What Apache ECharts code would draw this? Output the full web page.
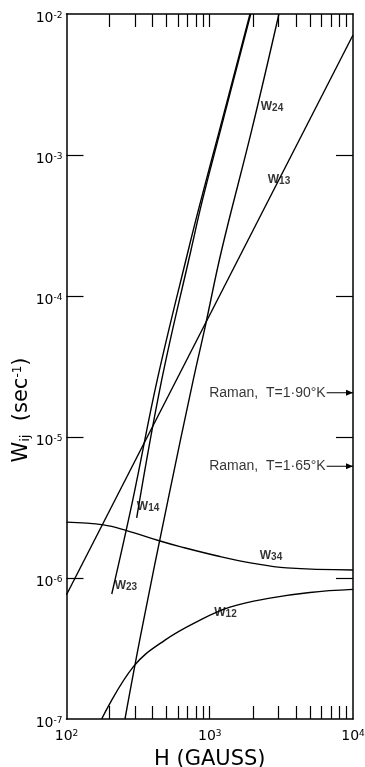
<!DOCTYPE html>
<html>
<head>
<meta charset="utf-8">
<script src="https://cdn.jsdelivr.net/npm/echarts@6/dist/echarts.min.js"></script>
<style>
  html, body { margin: 0; padding: 0; background: #fff; }
  #chart { width: 365px; height: 767px; }
</style>
</head>
<body>
<div id="chart"></div>
<script>
// Axis ranges: field H in gauss, transition rate W_ij in sec^-1
const fieldRange = [100, 10000];
const rateRange = [1e-7, 1e-2];

// Tick values
const fieldTicks = [200, 300, 400, 500, 600, 700, 800, 900, 1000,
                    2000, 3000, 4000, 5000, 6000, 7000, 8000, 9000];
const fieldLabelValues = [100, 1000, 10000];
const rateTicks = [1e-6, 1e-5, 1e-4, 1e-3];
const rateLabelValues = [1e-7, 1e-6, 1e-5, 1e-4, 1e-3, 1e-2];

// Relaxation rates [H (gauss), W (sec^-1)]
const W13 = [[100, 7.6e-7], [10000, 7.1e-3]];
const W24 = [[256, 1e-7], [335, 4.28e-7], [511, 3.57e-6], [767, 2.54e-5],
             [927, 6.0e-5], [1211, 2.12e-4], [1963, 1.5e-3], [3041, 1e-2]];
const W23 = [[207, 7.7e-7], [290, 3.57e-6], [430, 2.54e-5], [709, 2.12e-4],
             [869, 4.8e-4], [1170, 1.5e-3], [1910, 1e-2]];
const W14 = [[309, 2.67e-6], [462, 2.54e-5], [740, 2.12e-4], [890, 4.8e-4],
             [1189, 1.5e-3], [1932, 1e-2]];
const W34 = [[100, 2.49e-6], [181, 2.38e-6], [263, 2.17e-6], [450, 1.83e-6],
             [620, 1.67e-6], [1179, 1.42e-6], [2014, 1.27e-6], [3445, 1.18e-6],
             [10000, 1.14e-6]];
const W12 = [[176, 1e-7], [293, 2.35e-7], [487, 3.63e-7], [855, 5.03e-7],
             [1384, 6.22e-7], [2630, 7.2e-7], [5000, 7.9e-7], [10000, 8.3e-7]];

// Raman process rates at two temperatures (marked at the high-field edge)
const ramanTemps = ['1·90', '1·65'];
const ramanRates = [2.06e-5, 6.2e-6];
const ramanArrowFrom = 6550;

// Curve names and where their labels sit [H, W, subscript]
const curveLabels = [
  [3044, 6.65e-4, '13'],
  [2720, 2.19e-3, '24'],
  [371, 3.19e-6, '14'],
  [260, 8.78e-7, '23'],
  [2677, 1.43e-6, '34'],
  [1288, 5.65e-7, '12']
];

const ink = '#000';
const font = 'Liberation Sans, Arial, sans-serif';
const titleFont = 'DejaVu Sans, Liberation Sans, sans-serif';

function curve(name, data, smooth) {
  return {
    name: name, type: 'line', data: data, smooth: smooth,
    symbol: 'none', silent: true, clip: true,
    xAxisIndex: 0, yAxisIndex: 0,
    lineStyle: { color: ink, width: 1.4 }
  };
}

const powerLabel = {
  b: { fontFamily: titleFont, fontSize: 14, color: ink, lineHeight: 14, verticalAlign: 'bottom' },
  s: { fontFamily: titleFont, fontSize: 9, color: ink, lineHeight: 9, verticalAlign: 'top', padding: [0, 0, 6, 0] }
};
function powerText(v) {
  const e = Math.round(Math.log10(v));
  return '{b|10}{s|' + e + '}';
}

const series = [
  curve('W13', W13, false),
  curve('W24', W24, 0.4),
  curve('W23', W23, 0.4),
  curve('W14', W14, 0.4),
  curve('W34', W34, 0.4),
  curve('W12', W12, 0.4)
];

// Raman arrows
ramanRates.forEach(function (r) {
  series.push({
    type: 'line', silent: true, xAxisIndex: 0, yAxisIndex: 0,
    lineStyle: { color: ink, width: 1.2 },
    data: [
      { value: [ramanArrowFrom, r], symbol: 'none' },
      { value: [fieldRange[1], r], symbol: 'path://M0 0L10 5L0 10Z',
        symbolSize: [7, 6], symbolOffset: [-3.5, 0],
        itemStyle: { color: ink } }
    ]
  });
});

// Text labels: curve names and Raman captions
series.push({
  type: 'scatter', silent: true, xAxisIndex: 0, yAxisIndex: 0,
  symbolSize: 0,
  data: curveLabels.map(function (d) { return { value: [d[0], d[1]], sub: d[2] }; }),
  label: {
    show: true, position: 'inside',
    formatter: function (p) { return '{w|W}{s|' + p.data.sub + '}'; },
    rich: {
      w: { fontFamily: font, fontSize: 12, fontWeight: 'bold', color: ink, lineHeight: 12, verticalAlign: 'top' },
      s: { fontFamily: font, fontSize: 10, fontWeight: 'bold', color: ink, lineHeight: 10, verticalAlign: 'bottom', padding: [4, 0, 0, 0] }
    }
  }
});
series.push({
  type: 'scatter', silent: true, xAxisIndex: 0, yAxisIndex: 0,
  symbolSize: 0,
  data: ramanRates.map(function (r, i) { return { value: [ramanArrowFrom, r], t: ramanTemps[i] }; }),
  label: {
    show: true, position: 'left', distance: 1,
    fontFamily: font, fontSize: 14, color: ink,
    formatter: function (p) { return 'Raman,  T=' + p.data.t + '°K'; }
  }
});

const chart = echarts.init(document.getElementById('chart'), null, { renderer: 'canvas' });
chart.setOption({
  animation: false,
  backgroundColor: '#fff',
  grid: { left: 66.5, right: 12, top: 14, bottom: 48, containLabel: false, outerBoundsMode: 'none' },
  xAxis: [
    {
      type: 'log', logBase: 10, min: fieldRange[0], max: fieldRange[1],
      position: 'bottom',
      name: 'H (GAUSS)', nameLocation: 'middle', nameGap: 29,
      nameTextStyle: { fontFamily: titleFont, fontSize: 21, color: ink },
      axisLine: { lineStyle: { color: ink, width: 1.5 } },
      axisTick: { inside: true, length: 13, customValues: fieldTicks, lineStyle: { color: ink, width: 1.2 } },
      axisLabel: { customValues: fieldLabelValues, margin: 10, formatter: powerText, rich: powerLabel },
      splitLine: { show: false }, minorTick: { show: false }
    },
    {
      type: 'log', logBase: 10, min: fieldRange[0], max: fieldRange[1],
      position: 'top',
      axisLine: { lineStyle: { color: ink, width: 1.5 } },
      axisTick: { inside: true, length: 13, customValues: fieldTicks, lineStyle: { color: ink, width: 1.2 } },
      axisLabel: { show: false },
      splitLine: { show: false }
    }
  ],
  yAxis: [
    {
      type: 'log', logBase: 10, min: rateRange[0], max: rateRange[1],
      position: 'left',
      axisLine: { lineStyle: { color: ink, width: 1.5 } },
      axisTick: { inside: true, length: 17, customValues: rateTicks, lineStyle: { color: ink, width: 1.2 } },
      axisLabel: { customValues: rateLabelValues, margin: 4, padding: [8, 0, 0, 0], formatter: powerText, rich: powerLabel },
      splitLine: { show: false }
    },
    {
      type: 'log', logBase: 10, min: rateRange[0], max: rateRange[1],
      position: 'right',
      axisLine: { lineStyle: { color: ink, width: 1.5 } },
      axisTick: { inside: true, length: 17, customValues: rateTicks, lineStyle: { color: ink, width: 1.2 } },
      axisLabel: { show: false },
      splitLine: { show: false }
    }
  ],
  graphic: [{
    type: 'text', x: 22, y: 410, rotation: Math.PI / 2, silent: true,
    style: {
      text: '{w|W}{s|ij}{t|  (sec}{u|-1}{t|)}',
      align: 'center', verticalAlign: 'middle',
      rich: {
        w: { fontFamily: titleFont, fontSize: 21, fill: ink, lineHeight: 21, verticalAlign: 'top' },
        s: { fontFamily: titleFont, fontSize: 13, fill: ink, lineHeight: 13, verticalAlign: 'bottom', padding: [10, 0, 0, 0] },
        t: { fontFamily: titleFont, fontSize: 21, fill: ink, lineHeight: 21, verticalAlign: 'top' },
        u: { fontFamily: titleFont, fontSize: 12, fill: ink, lineHeight: 12, verticalAlign: 'top' }
      }
    }
  }],
  series: series
});
</script>
</body>
</html>
